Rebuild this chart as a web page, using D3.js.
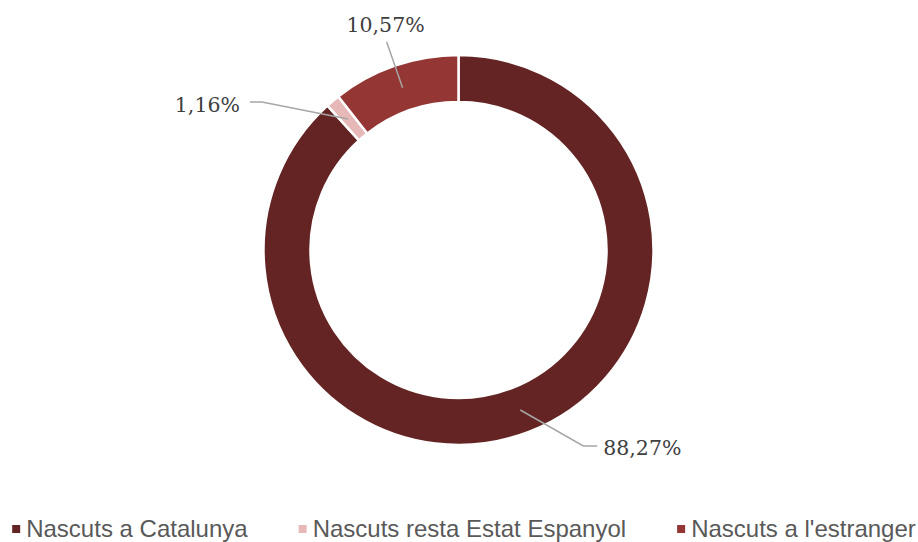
<!DOCTYPE html>
<html>
<head>
<meta charset="utf-8">
<script src="https://cdn.jsdelivr.net/npm/d3@7/dist/d3.min.js"></script>
<style>
  html, body { margin: 0; padding: 0; background: #fff; }
  svg { display: block; }
</style>
</head>
<body>
<svg id="chart" width="918" height="542"></svg>
<script>
// ---- data ----
const categories = ["Nascuts a Catalunya", "Nascuts resta Estat Espanyol", "Nascuts a l'estranger"];
const values = [88.27, 1.16, 10.57];
const labels = ["88,27%", "1,16%", "10,57%"];
const colors = ["#632423", "#E6B9B8", "#943634"];

// ---- layout ----
const W = 918, H = 542;
const cx = 458.5, cy = 250;
const outerR = 195, innerR = 148;
const labelR = (outerR + innerR) / 2;
// leader elbow / label offsets relative to slice centroid
const labelLayout = [
  { elbow: [63, 36], end: [77, 36], text: [83, 45], anchor: "start" },
  { elbow: [-86, -17], end: [-98, -17], text: [-108, -7], anchor: "end" },
  { elbow: [-16, -46], end: [-16, -46], text: [-17, -56], anchor: "middle" }
];

const svg = d3.select("#chart");
const g = svg.append("g").attr("transform", `translate(${cx},${cy})`);

const pie = d3.pie().sort(null).value(d => d);
const arcs = pie(values);
const arc = d3.arc().innerRadius(innerR).outerRadius(outerR);
const mid = d3.arc().innerRadius(labelR).outerRadius(labelR);

g.selectAll("path.slice")
  .data(arcs)
  .join("path")
  .attr("class", "slice")
  .attr("d", arc)
  .attr("fill", (d, i) => colors[i])
  .attr("stroke", "#fff")
  .attr("stroke-width", 2.5)
  .attr("stroke-linejoin", "miter");

// leader lines + labels
arcs.forEach((d, i) => {
  const c = mid.centroid(d);
  const L = labelLayout[i];
  const pts = [c, [c[0] + L.elbow[0], c[1] + L.elbow[1]], [c[0] + L.end[0], c[1] + L.end[1]]];
  g.append("path")
    .attr("d", d3.line()(pts))
    .attr("fill", "none")
    .attr("stroke", "#A6A6A6")
    .attr("stroke-width", 1.5);
  g.append("text")
    .attr("x", c[0] + L.text[0])
    .attr("y", c[1] + L.text[1])
    .attr("text-anchor", L.anchor)
    .attr("font-family", "DejaVu Serif, serif")
    .attr("font-size", 20.5)
    .attr("fill", "#404040")
    .text(labels[i]);
});

// legend
const legend = svg.append("g");
const items = legend.selectAll("g.item").data(categories).join("g").attr("class", "item");
items.append("rect")
  .attr("width", 8).attr("height", 8)
  .attr("y", -12)
  .attr("fill", (d, i) => colors[i]);
items.append("text")
  .attr("x", 14)
  .attr("y", 0)
  .attr("font-family", "Liberation Sans, Arial, sans-serif")
  .attr("font-size", 24)
  .attr("fill", "#595959")
  .text(d => d);
const gap = 51;
let xpos = 0;
const widths = [];
items.each(function () {
  const w = 14 + this.querySelector("text").getComputedTextLength();
  widths.push(w);
});
items.attr("transform", (d, i) => {
  const x = xpos;
  xpos += widths[i] + gap;
  return `translate(${x},0)`;
});
const total = xpos - gap;
legend.attr("transform", `translate(${464 - total / 2},537)`);
</script>
</body>
</html>
